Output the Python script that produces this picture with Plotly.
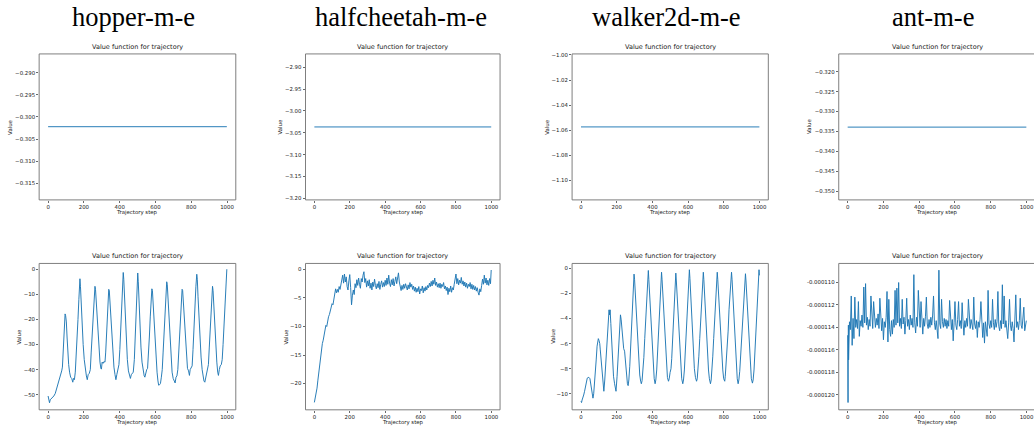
import plotly.graph_objects as go

# ---------------- data ----------------
env_names = ["hopper-m-e", "halfcheetah-m-e", "walker2d-m-e", "ant-m-e"]
subplot_title = "Value function for trajectory"
x_label = "Trajectory step"
y_label = "Value"

x_tick_vals = [0, 200, 400, 600, 800, 1000]
x_tick_text = ["0", "200", "400", "600", "800", "1000"]

# top row: constant value functions
const_values = [-0.3022, -3.0366, -1.0574, -0.3339]
const_steps = [0, 999]

top_tick_vals = [
    [-0.290, -0.295, -0.300, -0.305, -0.310, -0.315],
    [-2.90, -2.95, -3.00, -3.05, -3.10, -3.15, -3.20],
    [-1.00, -1.02, -1.04, -1.06, -1.08, -1.10],
    [-0.320, -0.325, -0.330, -0.335, -0.340, -0.345, -0.350],
]
top_tick_text = [
    ["−0.290", "−0.295", "−0.300", "−0.305", "−0.310", "−0.315"],
    ["−2.90", "−2.95", "−3.00", "−3.05", "−3.10", "−3.15", "−3.20"],
    ["−1.00", "−1.02", "−1.04", "−1.06", "−1.08", "−1.10"],
    ["−0.320", "−0.325", "−0.330", "−0.335", "−0.340", "−0.345", "−0.350"],
]
top_ranges = [[-0.3188, -0.2857], [-3.2036, -2.8695], [-1.1156, -0.9992], [-0.3522, -0.3155]]

# bottom row: hopper
hopper_steps = [0, 4, 8, 12, 18, 25, 32, 40, 48, 55, 62, 70, 76, 80, 84, 88, 92, 95, 98, 102,
                106, 110, 115, 120, 126, 132, 138, 142, 147, 152, 157, 162, 167, 172, 176, 178,
                181, 185, 190, 196, 202, 208, 214, 219, 224, 230, 236, 241, 246, 251, 256, 260,
                262, 265, 270, 275, 280, 285, 290, 295, 298, 302, 307, 312, 318, 322, 327, 332,
                336, 339, 342, 346, 351, 356, 362, 368, 374, 379, 384, 390, 396, 401, 406, 411,
                416, 420, 423, 427, 432, 437, 443, 449, 455, 460, 465, 470, 476, 482, 487, 492,
                497, 501, 504, 508, 513, 519, 525, 531, 537, 541, 546, 551, 556, 561, 566, 571,
                576, 580, 583, 587, 592, 597, 603, 609, 614, 618, 623, 628, 633, 638, 643, 648,
                653, 658, 663, 666, 670, 675, 681, 687, 693, 699, 705, 710, 715, 720, 725, 730,
                735, 740, 745, 749, 752, 756, 761, 767, 773, 779, 785, 790, 794, 799, 805, 810,
                815, 820, 826, 831, 834, 838, 843, 849, 855, 861, 866, 871, 876, 881, 886, 891,
                896, 901, 906, 911, 916, 919, 922, 926, 931, 937, 943, 948, 952, 957, 962, 968,
                973, 978, 983, 988, 993, 997, 999]
hopper_values = [-50.5, -52, -53.2, -52, -51.5, -51.2, -50.5, -49.5, -47.5, -46.5, -45, -43, -40.5, -39, -33, -26, -19, -17.8, -18.5, -21,
                 -27, -33, -38, -41, -43, -43.5, -45, -43.5, -44, -41, -35, -28, -20, -12, -5, -3.8,
                 -7, -14, -22, -30, -36, -40, -42.5, -44, -42, -41.5, -40, -33, -26, -18, -11, -7,
                 -6.8, -8, -14, -21, -27, -33, -37, -39.5, -39.8, -37, -37.5, -36.8, -37, -33, -24, -16,
                 -10, -8, -8.5, -13, -20, -27, -34, -39, -42, -44, -42, -40.5, -38, -32, -24, -15,
                 -7, -1.3, -4, -12, -21, -29, -36, -40.5, -42.5, -43.5, -42, -41.5, -41, -36, -28, -19,
                 -9, -1.5, -5, -13, -22, -31, -37, -40.5, -42.5, -43, -41, -40, -39.5, -35, -27, -19,
                 -11, -7.8, -8.5, -14, -22, -29, -36, -41, -44.5, -46.2, -46, -45.5, -43, -40, -33, -25,
                 -17, -10, -5, -6, -12, -20, -29, -36, -41, -43.5, -44.5, -45.3, -43, -42.5, -40, -34,
                 -26, -18, -11, -8, -8.5, -13, -21, -29, -35, -39.5, -40.5, -42.3, -40, -39.5, -38.5, -32,
                 -23, -15, -7, -2, -4, -11, -20, -28, -35, -40, -43.5, -44.5, -45, -43, -42, -40,
                 -38, -31, -23, -15, -8, -6.8, -8.5, -15, -23, -31, -37, -41, -42.3, -40, -38.5, -38,
                 -36, -30, -22, -15, -8, -3, 0]

# bottom row: halfcheetah (every 5 steps, then step 999)
cheetah_steps = list(range(0, 1000, 5)) + [999]
cheetah_values = [
    -23.3, -22.5, -21.7, -20.8, -19.4, -18.0, -16.5, -15.4, -14.1, -13.0,
    -12.4, -11.2, -10.3, -9.8, -10.0, -9.0, -8.3, -7.9, -7.2, -6.6,
    -6.0, -6.2, -5.2, -4.4, -3.4, -4.1, -3.5, -4.0, -3.0, -3.5,
    -2.6, -2.0, -1.0, -2.4, -0.8, -2.2, -1.3, -3.0, -3.6, -2.0,
    -0.9, -3.2, -6.2, -4.5, -3.6, -4.4, -2.5, -3.2, -1.8, -2.8,
    -1.5, -2.6, -3.3, -1.6, -2.2, -1.0, -0.4, -2.3, -1.6, -3.1,
    -2.0, -2.9, -1.8, -3.3, -2.4, -3.6, -2.2, -3.0, -1.7, -2.8,
    -3.4, -2.5, -3.2, -2.1, -3.5, -2.6, -2.0, -3.1, -2.3, -3.0,
    -1.9, -2.8, -1.5, -2.6, -1.0, -2.4, -3.0, -1.8, -2.7, -1.6,
    -2.9, -2.1, -1.3, -2.5, -1.7, -0.6, -2.2, -3.1, -3.7, -2.8,
    -3.5, -2.6, -3.3, -2.5, -3.0, -3.6, -2.7, -3.4, -2.3, -3.1,
    -2.6, -3.5, -2.9, -3.8, -3.1, -4.0, -3.3, -3.9, -3.0, -4.3,
    -3.4, -3.7, -2.9, -4.1, -3.2, -3.8, -3.0, -3.6, -2.8, -3.2,
    -2.4, -3.0, -2.1, -2.9, -1.9, -2.6, -1.5, -2.8, -2.2, -3.1,
    -2.5, -3.2, -2.4, -3.3, -2.6, -3.0, -2.3, -3.4, -2.9, -3.7,
    -3.1, -4.4, -3.3, -3.9, -2.9, -4.0, -3.2, -3.6, -2.6, -1.8,
    -0.8, -2.5, -1.6, -2.7, -1.9, -2.4, -1.4, -2.6, -2.0, -2.9,
    -2.2, -3.1, -2.4, -3.3, -2.6, -3.0, -2.3, -3.4, -2.6, -3.5,
    -2.8, -3.6, -3.0, -3.8, -3.2, -4.0, -4.5, -3.4, -3.9, -2.8,
    -1.7, -2.6, -1.0, -2.4, -1.5, -2.7, -1.9, -2.8, -1.6, -2.5,
    -0.1,
]

# bottom row: walker2d
walker_steps = [0, 3, 6, 10, 15, 20, 25, 30, 35, 40, 45, 50, 55, 60, 64, 67, 71, 75, 80, 85,
                90, 94, 97, 101, 105, 108, 113, 118, 123, 128, 133, 138, 143, 148, 153, 157, 160, 163, 167, 172,
                177, 182, 188, 192, 196, 202, 207, 212, 217, 221, 225, 229, 234, 239, 244, 248, 252, 256, 260, 264,
                268, 273, 278, 283, 288, 292, 297, 300, 304, 309, 314, 319, 324, 329, 334, 338,
                342, 347, 352, 357, 362, 367, 372, 377, 380, 385, 390, 395, 400, 405, 410, 415,
                419, 424, 428, 433, 437, 442, 447, 451, 454, 459, 464, 469, 474, 479, 484, 490,
                494, 499, 504, 508, 513, 518, 523, 527, 531, 534, 539, 544, 549, 554, 559, 564, 570,
                574, 579, 583, 588, 592, 597, 602, 607, 610, 615, 620, 625, 630, 635, 641, 647,
                651, 656, 660, 665, 670, 675, 680, 685, 688, 693, 698, 703, 708, 714, 719, 725,
                729, 734, 738, 743, 748, 753, 758, 763, 766, 771, 777, 782, 788, 794, 799, 805,
                808, 811, 815, 819, 824, 829, 834, 839, 843, 846, 851, 855, 860, 865, 870, 875, 880,
                884, 889, 894, 899, 904, 909, 915, 921, 924, 929, 934, 939, 944, 949, 954, 960,
                964, 969, 973, 978, 982, 987, 992, 997, 999]
walker_values = [-10.6, -10.7, -10.5, -10.35, -10.1, -9.8, -9.4, -8.95, -8.75, -8.7, -8.7, -8.8, -9.2, -9.7, -10.2, -10.35, -10.0, -9.4, -8.4, -7.3,
                 -6.2, -5.7, -5.6, -5.75, -6.0, -6.5, -7.3, -8.4, -9.3, -9.8, -8.9, -7.8, -6.2, -4.9, -3.9, -3.3, -3.7, -3.3, -4.4, -6.2,
                 -7.8, -8.6, -9.2, -9.4, -9.8, -8.6, -7.0, -5.4, -4.1, -3.7, -4.1, -4.9, -5.8, -6.4, -6.6, -7.2, -8.0, -8.8, -9.2, -9.35,
                 -8.9, -7.8, -6.0, -4.1, -2.3, -1.1, -0.45, -0.9, -2.0, -3.6, -5.2, -6.6, -7.7, -8.5, -9.0, -9.2,
                 -8.95, -8.25, -7.1, -5.6, -4.0, -2.4, -1.0, -0.16, -0.9, -2.3, -4.0, -5.6, -7.0, -8.1, -8.8, -9.2,
                 -8.9, -8.1, -7.0, -5.5, -4.0, -2.3, -1.0, -0.3, -0.9, -2.3, -4.0, -5.6, -7.0, -8.1, -8.7, -9.0,
                 -8.8, -8.3, -8.0, -7.2, -5.8, -4.0, -2.3, -1.1, -0.37, -1.0, -2.4, -4.0, -5.6, -7.0, -8.1, -8.8, -9.2,
                 -8.9, -8.1, -7.0, -5.5, -3.9, -2.2, -0.9, -0.1, -0.8, -2.2, -3.9, -5.5, -6.9, -8.0, -8.7, -9.0,
                 -8.8, -8.1, -7.0, -5.6, -4.0, -2.4, -1.0, -0.3, -0.9, -2.3, -4.0, -5.6, -7.0, -8.1, -8.8, -9.2,
                 -8.9, -8.1, -7.0, -5.6, -4.0, -2.4, -1.0, -0.3, -0.9, -2.3, -4.0, -5.6, -7.0, -8.1, -8.8, -9.0,
                 -8.6, -8.0, -7.6, -6.6, -5.0, -3.3, -1.9, -0.9, -0.3, -0.9, -2.3, -4.0, -5.6, -7.0, -8.1, -8.8, -9.2,
                 -8.9, -8.2, -7.0, -5.6, -4.0, -2.5, -1.1, -0.42, -1.0, -2.4, -4.0, -5.6, -7.0, -8.1, -8.8, -9.15,
                 -8.9, -8.1, -7.0, -5.6, -4.0, -2.4, -1.0, -0.1, -0.55]

# bottom row: ant (values in units of 1e-6)
ant_steps = [0, 1, 2, 3, 4] + list(range(5, 1000, 5)) + [999]
ant_values_micro = [
    -114.7, -117.5, -120.7, -116.5, -113.8,
    -116.9, -113.5, -114.2, -111.2, -115.6, -113.2, -115.0, -111.3, -114.0, -113.3,
    -114.1, -111.7, -114.8, -113.4, -113.9, -112.9, -114.0, -110.4, -113.6, -110.1,
    -113.8, -113.1, -114.2, -113.3, -113.9, -111.2, -113.5, -114.1, -111.7, -113.4,
    -114.0, -113.2, -113.8, -112.8, -114.1, -111.4, -113.6, -114.3, -113.2, -115.1,
    -113.5, -114.0, -113.1, -110.8, -115.3, -111.5, -114.2, -114.8, -113.4, -114.6,
    -113.3, -114.0, -110.7, -113.8, -110.5, -113.6, -110.0, -113.9, -113.2, -114.1,
    -111.5, -113.7, -113.1, -114.6, -113.4, -111.4, -113.9, -113.3, -114.2, -112.9,
    -113.8, -113.2, -114.0, -109.3, -113.6, -114.5, -113.1, -113.9, -110.7, -113.5,
    -114.0, -111.7, -113.4, -114.6, -113.2, -113.9, -113.0, -111.3, -113.7, -114.1,
    -113.3, -114.0, -113.1, -113.8, -112.9, -111.2, -113.6, -114.2, -113.4, -114.0,
    -115.0, -108.9, -113.7, -114.1, -111.5, -113.5, -114.0, -113.2, -113.9, -113.3,
    -114.1, -113.4, -113.9, -111.6, -113.5, -114.2, -113.3, -115.2, -113.6, -111.7,
    -113.8, -114.2, -113.3, -111.7, -113.9, -113.4, -114.1, -111.8, -113.5, -114.7,
    -113.4, -114.0, -113.2, -113.9, -111.5, -113.6, -114.1, -113.3, -113.8, -114.2,
    -111.3, -113.7, -114.1, -113.4, -114.9, -113.5, -114.0, -113.3, -111.7, -113.8,
    -114.9, -113.6, -115.4, -113.5, -114.2, -114.8, -110.7, -113.7, -114.1, -113.4,
    -114.0, -111.5, -113.6, -114.2, -113.3, -114.0, -113.5, -110.8, -113.9, -114.3,
    -113.4, -114.1, -110.2, -113.7, -111.2, -114.0, -113.4, -114.2, -115.0, -113.6,
    -111.5, -113.8, -114.3, -113.5, -114.1, -115.3, -113.7, -111.1, -114.0, -113.5,
    -114.2, -113.4, -111.4, -113.8, -114.1, -113.3, -112.2, -114.3, -113.6,
    -113.4,
]
ant_values = [v * 1e-6 for v in ant_values_micro]

bottom_steps = [hopper_steps, cheetah_steps, walker_steps, ant_steps]
bottom_values = [hopper_values, cheetah_values, walker_values, ant_values]

bottom_tick_vals = [
    [0, -10, -20, -30, -40, -50],
    [0, -5, -10, -15, -20],
    [0, -2, -4, -6, -8, -10],
    [-0.000110, -0.000112, -0.000114, -0.000116, -0.000118, -0.000120],
]
bottom_tick_text = [
    ["0", "−10", "−20", "−30", "−40", "−50"],
    ["0", "−5", "−10", "−15", "−20"],
    ["0", "−2", "−4", "−6", "−8", "−10"],
    ["-0.000110", "-0.000112", "-0.000114", "-0.000116", "-0.000118", "-0.000120"],
]
bottom_ranges = [[-56.0, 2.3], [-24.6, 1.05], [-11.28, 0.4], [-121.35e-6, -108.3e-6]]

# ---------------- layout geometry (pixels) ----------------
W, H = 1034, 427
cols_px = [(39.3, 236.7), (306.7, 502.0), (574.3, 771.3), (842.0, 1039.3)]
rows_px = [(52.3, 199.3), (263.3, 410.7)]
col_title_x = [134.3, 402.3, 669.3, 937.0]
ylabel_x = [[10.0, 280.7, 549.0, 812.3], [19.0, 287.0, 554.3, None]]
title_y = [45.0, 255.8]
xlabel_y = [212.4, 423.4]
col_title_y = 15.5

LINE = "#1f77b4"
TXT = "#1a1a1a"
FRAME = "#707070"
SANS = "DejaVu Sans"


def px_x(p):
    return p / W


def px_y(p):
    return 1 - p / H


fig = go.Figure()
annotations = []
shapes = []

for r in range(2):
    for c in range(4):
        k = r * 4 + c + 1
        xa = "x" if k == 1 else f"x{k}"
        ya = "y" if k == 1 else f"y{k}"
        x0, x1 = cols_px[c]
        y0, y1 = rows_px[r]
        dom_x1 = min(x1, W)
        xr_hi = 1049 if c < 3 else -50 + (W - x0) / ((x1 - x0) / 1099)
        if r == 0:
            xs, ys = const_steps, [const_values[c]] * 2
            yr, tv, tt = top_ranges[c], top_tick_vals[c], top_tick_text[c]
        else:
            xs, ys = bottom_steps[c], bottom_values[c]
            yr, tv, tt = bottom_ranges[c], bottom_tick_vals[c], bottom_tick_text[c]
        fig.add_trace(go.Scatter(x=xs, y=ys, mode="lines", line=dict(color=LINE, width=0.95),
                                 xaxis=xa, yaxis=ya, showlegend=False, hoverinfo="skip"))
        axcommon = dict(showgrid=False, zeroline=False, showline=False, ticks="outside",
                        ticklen=2, tickwidth=0.8, tickcolor="#444",
                        ticklabeloverflow="allow",
                        tickfont=dict(family=SANS, size=5.4, color=TXT), fixedrange=True)
        fig.layout[("xaxis" if k == 1 else f"xaxis{k}")] = dict(
            domain=[px_x(x0), px_x(dom_x1)], range=[-50, xr_hi], anchor=ya,
            tickmode="array", tickvals=x_tick_vals, ticktext=x_tick_text, **axcommon)
        fig.layout[("yaxis" if k == 1 else f"yaxis{k}")] = dict(
            domain=[px_y(y1), px_y(y0)], range=yr, anchor=xa,
            tickmode="array", tickvals=tv, ticktext=tt, **axcommon)
        shapes.append(dict(type="rect", xref="paper", yref="paper",
                           x0=px_x(x0), x1=px_x(x1), y0=px_y(y1), y1=px_y(y0),
                           line=dict(color=FRAME, width=0.9), layer="above"))
        cx = (x0 + x1) / 2
        annotations.append(dict(text=subplot_title, x=px_x(cx), y=px_y(title_y[r]),
                                xref="paper", yref="paper", xanchor="center", yanchor="middle",
                                showarrow=False, font=dict(family=SANS, size=6.5, color=TXT)))
        annotations.append(dict(text=x_label, x=px_x(cx), y=px_y(xlabel_y[r]),
                                xref="paper", yref="paper", xanchor="center", yanchor="middle",
                                showarrow=False, font=dict(family=SANS, size=5.4, color=TXT)))
        if ylabel_x[r][c] is not None:
            annotations.append(dict(text=y_label, x=px_x(ylabel_x[r][c]), y=px_y((y0 + y1) / 2),
                                    xref="paper", yref="paper", xanchor="center", yanchor="middle",
                                    textangle=-90, showarrow=False,
                                    font=dict(family=SANS, size=5.4, color=TXT)))

for c in range(4):
    annotations.append(dict(text=env_names[c], x=px_x(col_title_x[c]), y=px_y(col_title_y),
                            xref="paper", yref="paper", xanchor="center", yanchor="middle",
                            showarrow=False, font=dict(family="Liberation Serif", size=26.5, color="black")))

fig.update_layout(width=W, height=H, margin=dict(l=0, r=0, t=0, b=0),
                  paper_bgcolor="white", plot_bgcolor="white",
                  annotations=annotations, shapes=shapes, showlegend=False)

fig.write_html("out.html", config={"displayModeBar": False, "staticPlot": True},
               post_script="document.body.style.margin='0';document.body.style.overflow='hidden';")
